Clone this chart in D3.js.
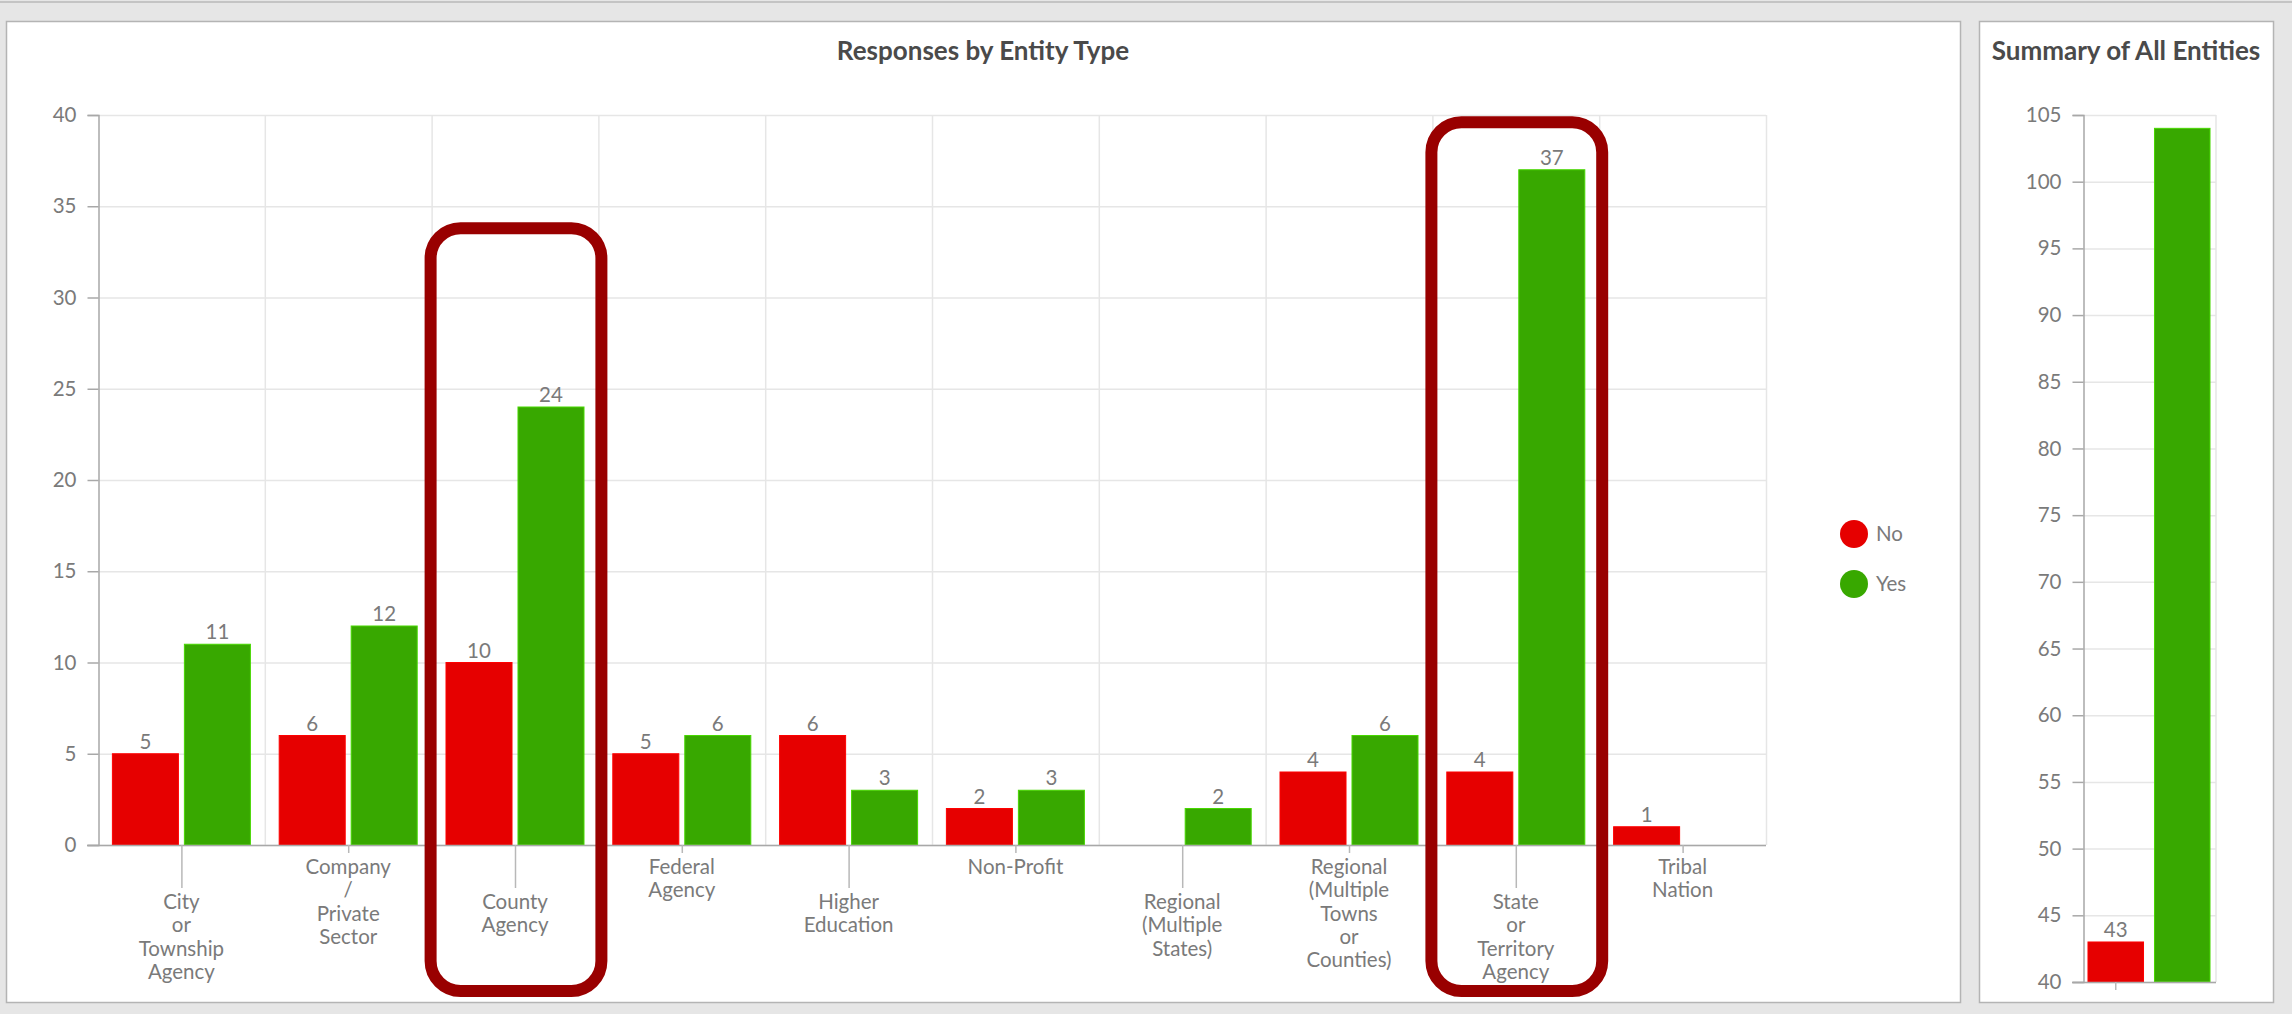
<!DOCTYPE html>
<html>
<head>
<meta charset="utf-8">
<script src="https://cdn.jsdelivr.net/npm/d3@7"></script>
<style>
  html, body { margin: 0; padding: 0; background: #e6e6e6; }
  svg { display: block; }
  text { font-family: Lato, "Open Sans", sans-serif; }
</style>
</head>
<body>
<svg id="chart" width="2292" height="1014"></svg>
<script>
// ---- data ----
const categories = [
  "City or Township Agency",
  "Company / Private Sector",
  "County Agency",
  "Federal Agency",
  "Higher Education",
  "Non-Profit",
  "Regional (Multiple States)",
  "Regional (Multiple Towns or Counties)",
  "State or Territory Agency",
  "Tribal Nation"
];
const seriesNames = ["No", "Yes"];
const noValues  = [5, 6, 10, 5, 6, 2, 0, 4, 4, 1];
const yesValues = [11, 12, 24, 6, 3, 3, 2, 6, 37, 0];
const yTicks = [0, 5, 10, 15, 20, 25, 30, 35, 40];

const summaryValues = [43, 104];
const summaryTicks = [40, 45, 50, 55, 60, 65, 70, 75, 80, 85, 90, 95, 100, 105];

// categories outlined with a rounded box, and the box top in axis units
const highlightCats = ["County Agency", "State or Territory Agency"];
const highlightTops = [33.8, 39.6];

const colors = { No: "#e60000", Yes: "#38a800" };
const textGray = "#7a7a7a";
const gridGray = "#e6e6e6";
const axisGray = "#a8a8a8";
const labelSize = "20.5px";
const titleSize = "26px";

const svg = d3.select("#chart");

// ---- page frame ----
svg.append("rect").attr("x", 0).attr("y", 0).attr("width", 2292).attr("height", 1014).attr("fill", "#e6e6e6");
svg.append("line").attr("x1", 0).attr("x2", 2292).attr("y1", 2).attr("y2", 2)
  .attr("stroke", "#c4c4c4").attr("stroke-width", 2);

function panel(x, y, w, h) {
  svg.append("rect").attr("x", x + 0.5).attr("y", y + 0.5).attr("width", w).attr("height", h)
    .attr("fill", "#ffffff").attr("stroke", "#b4b4b4").attr("stroke-width", 1.5);
}
panel(6, 21, 1954, 981);
panel(1979, 21, 294, 981);

// ---- main chart ----
const rows = categories.map((c, i) => ({ cat: c, No: noValues[i], Yes: yesValues[i] }));

const x0 = d3.scaleBand().domain(categories).range([98, 1766]).padding(0);
const x1 = d3.scaleBand().domain(seriesNames).range([0, x0.bandwidth()])
  .paddingInner(0.083).paddingOuter(0.2);
const y = d3.scaleLinear().domain([0, 40]).range([845, 115]);

const main = svg.append("g");

// horizontal grid
main.append("g").selectAll("line").data(yTicks).join("line")
  .attr("x1", 98).attr("x2", 1766)
  .attr("y1", d => y(d) + 0.5).attr("y2", d => y(d) + 0.5)
  .attr("stroke", gridGray).attr("stroke-width", 1.5);

// vertical grid at category boundaries
const edges = categories.map(c => x0(c)).concat([x0.range()[1]]);
main.append("g").selectAll("line").data(edges.slice(1)).join("line")
  .attr("x1", d => d + 0.5).attr("x2", d => d + 0.5)
  .attr("y1", 115).attr("y2", 845)
  .attr("stroke", gridGray).attr("stroke-width", 1.5);

// y axis
const yAxis = d3.axisLeft(y).tickValues(yTicks).tickSize(11).tickPadding(11);
const yg = main.append("g").attr("transform", "translate(98.5,0)").call(yAxis);
yg.select(".domain").attr("stroke", axisGray).attr("stroke-width", 1.5);
yg.selectAll(".tick line").attr("stroke", axisGray).attr("stroke-width", 1.5);
yg.selectAll(".tick text").attr("fill", textGray).style("font-size", labelSize)
  .style("font-family", "Lato, sans-serif");

// bars
const groups = main.append("g").selectAll("g").data(rows).join("g")
  .attr("transform", d => `translate(${x0(d.cat)},0)`);

groups.selectAll("rect").data(d => seriesNames.map(k => ({ key: k, value: d[k] })))
  .join("rect")
  .attr("x", d => x1(d.key))
  .attr("y", d => y(d.value))
  .attr("width", x1.bandwidth())
  .attr("height", d => y(0) - y(d.value))
  .attr("fill", d => colors[d.key])
  .attr("stroke", d => d3.color(colors[d.key]).brighter(0.7))
  .attr("stroke-width", d => d.value > 0 ? 1 : 0);

groups.selectAll("text.val").data(d => seriesNames.map(k => ({ key: k, value: d[k] })).filter(v => v.value > 0))
  .join("text").attr("class", "val")
  .attr("x", d => x1(d.key) + x1.bandwidth() / 2)
  .attr("y", d => y(d.value) - 5)
  .attr("text-anchor", "middle")
  .attr("fill", textGray).style("font-size", labelSize)
  .text(d => d.value);

// x axis baseline
main.append("line").attr("x1", 87).attr("x2", 1766).attr("y1", 845.5).attr("y2", 845.5)
  .attr("stroke", axisGray).attr("stroke-width", 1.5);

// staggered category labels
const xl = main.append("g").selectAll("g").data(categories).join("g")
  .attr("transform", c => `translate(${x0(c) + x0.bandwidth() / 2},0)`);
xl.append("line")
  .attr("x1", 0.5).attr("x2", 0.5)
  .attr("y1", 845).attr("y2", (c, i) => i % 2 === 0 ? 888 : 853)
  .attr("stroke", "#b8b8b8").attr("stroke-width", 1.5);
xl.append("text")
  .attr("text-anchor", "middle")
  .attr("fill", textGray).style("font-size", labelSize)
  .attr("y", (c, i) => i % 2 === 0 ? 909 : 874)
  .selectAll("tspan").data(c => c.split(" ")).join("tspan")
  .attr("x", 0)
  .attr("dy", (w, j) => j === 0 ? 0 : 23.3)
  .text(w => w);

// highlight boxes
main.append("g").selectAll("rect").data(highlightCats).join("rect")
  .attr("x", c => x0(c) - 1)
  .attr("width", x0.bandwidth() + 4)
  .attr("y", (c, i) => y(highlightTops[i]))
  .attr("height", (c, i) => 991 - y(highlightTops[i]))
  .attr("rx", 30).attr("ry", 30)
  .attr("fill", "none").attr("stroke", "#990000").attr("stroke-width", 12);

// title
svg.append("text").attr("x", 983).attr("y", 60).attr("text-anchor", "middle")
  .attr("fill", "#4a4a4a").style("font-size", titleSize).style("font-weight", "700")
  .text("Responses by Entity Type");

// legend
const legend = svg.append("g").selectAll("g").data(seriesNames).join("g")
  .attr("transform", (d, i) => `translate(1854,${534 + i * 50})`);
legend.append("circle").attr("r", 14).attr("fill", d => colors[d]);
legend.append("text").attr("x", 22).attr("y", 7).attr("fill", textGray)
  .style("font-size", labelSize).text(d => d);

// ---- summary chart ----
const sx = d3.scaleBand().domain(seriesNames).range([2083, 2215]).paddingInner(0.165).paddingOuter(0.075);
const sy = d3.scaleLinear().domain([40, 105]).range([982, 115]);
const summ = svg.append("g");

summ.append("g").selectAll("line").data(summaryTicks).join("line")
  .attr("x1", 2083).attr("x2", 2216)
  .attr("y1", d => sy(d) + 0.5).attr("y2", d => sy(d) + 0.5)
  .attr("stroke", gridGray).attr("stroke-width", 1.5);
summ.append("line").attr("x1", 2216).attr("x2", 2216).attr("y1", 115).attr("y2", 982)
  .attr("stroke", gridGray).attr("stroke-width", 1.5);

const syAxis = d3.axisLeft(sy).tickValues(summaryTicks).tickSize(11).tickPadding(11);
const syg = summ.append("g").attr("transform", "translate(2083.5,0)").call(syAxis);
syg.select(".domain").attr("stroke", axisGray).attr("stroke-width", 1.5);
syg.selectAll(".tick line").attr("stroke", axisGray).attr("stroke-width", 1.5);
syg.selectAll(".tick text").attr("fill", textGray).style("font-size", labelSize)
  .style("font-family", "Lato, sans-serif");

const sRows = seriesNames.map((k, i) => ({ key: k, value: summaryValues[i] }));
summ.append("g").selectAll("rect").data(sRows).join("rect")
  .attr("x", d => sx(d.key)).attr("y", d => sy(d.value))
  .attr("width", sx.bandwidth()).attr("height", d => sy(40) - sy(d.value))
  .attr("fill", d => colors[d.key])
  .attr("stroke", d => d3.color(colors[d.key]).brighter(0.7)).attr("stroke-width", 1);

// value labels only where they fit inside the plot area
summ.append("g").selectAll("text").data(sRows.filter(d => sy(d.value) - 24 >= 115)).join("text")
  .attr("x", d => sx(d.key) + sx.bandwidth() / 2)
  .attr("y", d => sy(d.value) - 5)
  .attr("text-anchor", "middle").attr("fill", textGray).style("font-size", labelSize)
  .text(d => d.value);

summ.append("line").attr("x1", 2072).attr("x2", 2216).attr("y1", 982.5).attr("y2", 982.5)
  .attr("stroke", axisGray).attr("stroke-width", 1.5);
summ.append("line")
  .attr("x1", sx("No") + sx.bandwidth() / 2).attr("x2", sx("No") + sx.bandwidth() / 2)
  .attr("y1", 982).attr("y2", 990)
  .attr("stroke", "#b8b8b8").attr("stroke-width", 1.5);

svg.append("text").attr("x", 2126).attr("y", 60).attr("text-anchor", "middle")
  .attr("fill", "#4a4a4a").style("font-size", titleSize).style("font-weight", "700")
  .text("Summary of All Entities");
</script>
</body>
</html>
